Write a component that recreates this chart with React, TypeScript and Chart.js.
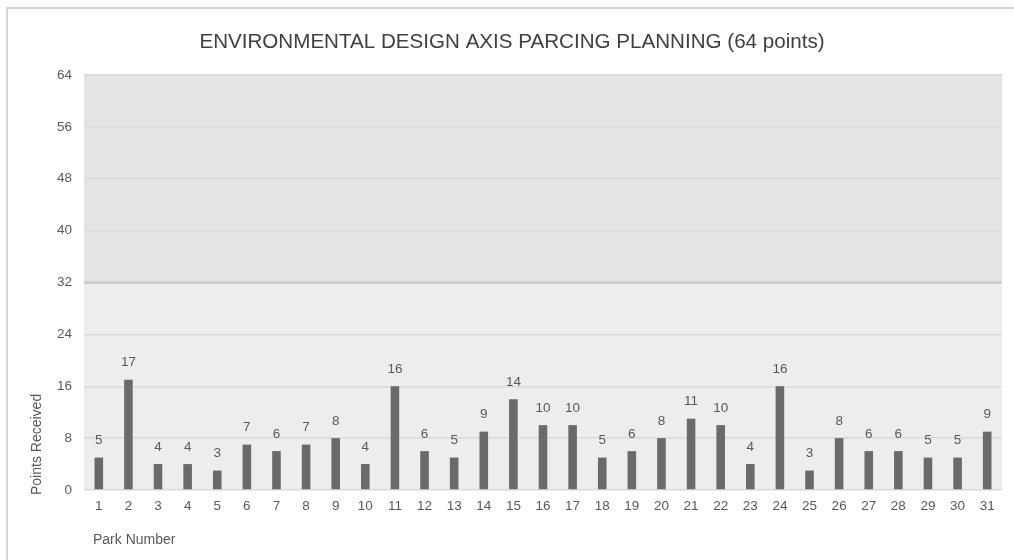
import { useEffect, useRef } from "react";
import { Chart, registerables } from "chart.js";

Chart.register(...registerables);

const parks = [
  "1", "2", "3", "4", "5", "6", "7", "8", "9", "10", "11", "12", "13", "14", "15", "16",
  "17", "18", "19", "20", "21", "22", "23", "24", "25", "26", "27", "28", "29", "30", "31",
];
const points = [5, 17, 4, 4, 3, 7, 6, 7, 8, 4, 16, 6, 5, 9, 14, 10, 10, 5, 6, 8, 11, 10, 4, 16, 3, 8, 6, 6, 5, 5, 9];
const yTickValues = [0, 8, 16, 24, 32, 40, 48, 56, 64];
const yMax = 64;
const bandSplit = 32;
const chartTitle = "ENVIRONMENTAL DESIGN AXIS PARCING PLANNING (64 points)";
const xTitle = "Park Number";
const yTitle = "Points Received";

const FONT = "'Liberation Sans', Arial, sans-serif";
const TEXT = "#595959";

const decor = {
  id: "decor",
  beforeDraw(chart: any) {
    const { ctx, chartArea: a, scales } = chart;
    const y = scales.y;
    ctx.save();
    ctx.fillStyle = "#ffffff";
    ctx.fillRect(0, 0, chart.width, chart.height);
    ctx.fillStyle = "#d6d6d6";
    ctx.fillRect(6, 7, chart.width - 6, 2);
    ctx.fillRect(6, 7, 2, chart.height - 7);
    const ySplit = y.getPixelForValue(bandSplit);
    ctx.fillStyle = "#e4e4e4";
    ctx.fillRect(a.left, a.top, a.right - a.left, ySplit - a.top);
    ctx.fillStyle = "#ededed";
    ctx.fillRect(a.left, ySplit, a.right - a.left, a.bottom - ySplit);
    ctx.restore();
  },
  afterDraw(chart: any) {
    const { ctx, chartArea: a } = chart;
    ctx.save();
    ctx.fillStyle = "#404040";
    ctx.font = `20.6px ${FONT}`;
    ctx.textAlign = "center";
    ctx.textBaseline = "middle";
    ctx.fillText(chartTitle, 512, 42);
    ctx.fillStyle = TEXT;
    ctx.font = `14px ${FONT}`;
    ctx.textAlign = "left";
    ctx.fillText(xTitle, a.left + 9, 540);
    ctx.translate(37, a.bottom + 5);
    ctx.rotate(-Math.PI / 2);
    ctx.fillText(yTitle, 0, 0);
    ctx.restore();
  },
  afterDatasetsDraw(chart: any) {
    const { ctx } = chart;
    const meta = chart.getDatasetMeta(0);
    const data = chart.data.datasets[0].data;
    ctx.save();
    ctx.fillStyle = TEXT;
    ctx.font = `13.5px ${FONT}`;
    ctx.textAlign = "center";
    ctx.textBaseline = "middle";
    meta.data.forEach((bar: any, i: number) => {
      ctx.fillText(String(data[i]), bar.x, bar.y - 17);
    });
    ctx.restore();
  },
};

export default function App() {
  const ref = useRef<HTMLCanvasElement | null>(null);
  useEffect(() => {
    if (!ref.current) return;
    const chart = new Chart(ref.current, {
      type: "bar",
      data: {
        labels: parks,
        datasets: [
          {
            data: points,
            backgroundColor: "#6a6a6a",
            borderWidth: 0,
            barPercentage: 0.29,
            categoryPercentage: 1,
          },
        ],
      },
      options: {
        animation: false,
        responsive: false,
        layout: { padding: { left: 8, right: 12, top: 75, bottom: 0 } },
        plugins: {
          legend: { display: false },
          tooltip: { enabled: false },
          title: { display: false },
        },
        scales: {
          x: {
            offset: true,
            grid: { display: false, drawTicks: false },
            border: { display: false },
            ticks: {
              color: TEXT,
              font: { family: FONT, size: 13.5 },
              padding: 8,
              maxRotation: 0,
              autoSkip: false,
            },
            afterFit: (s: any) => {
              s.height = 70;
            },
          },
          y: {
            min: 0,
            max: yMax,
            afterBuildTicks: (s: any) => {
              s.ticks = yTickValues.map((v) => ({ value: v }));
            },
            grid: {
              drawTicks: false,
              color: (c: any) => (c.tick && c.tick.value === bandSplit ? "#cdcdcd" : "#d9d9d9"),
              lineWidth: (c: any) => (c.tick && c.tick.value === bandSplit ? 3 : 1.5),
            },
            border: { display: false },
            ticks: {
              color: TEXT,
              font: { family: FONT, size: 13.5 },
              padding: 12,
            },
            afterFit: (s: any) => {
              s.width = 76;
            },
          },
        },
      },
      plugins: [decor],
    });
    return () => chart.destroy();
  }, []);
  return (
    <div style={{ position: "absolute", left: 0, top: 0, width: 1014, height: 560 }}>
      <canvas ref={ref} width={1014} height={560} style={{ display: "block" }} />
    </div>
  );
}
